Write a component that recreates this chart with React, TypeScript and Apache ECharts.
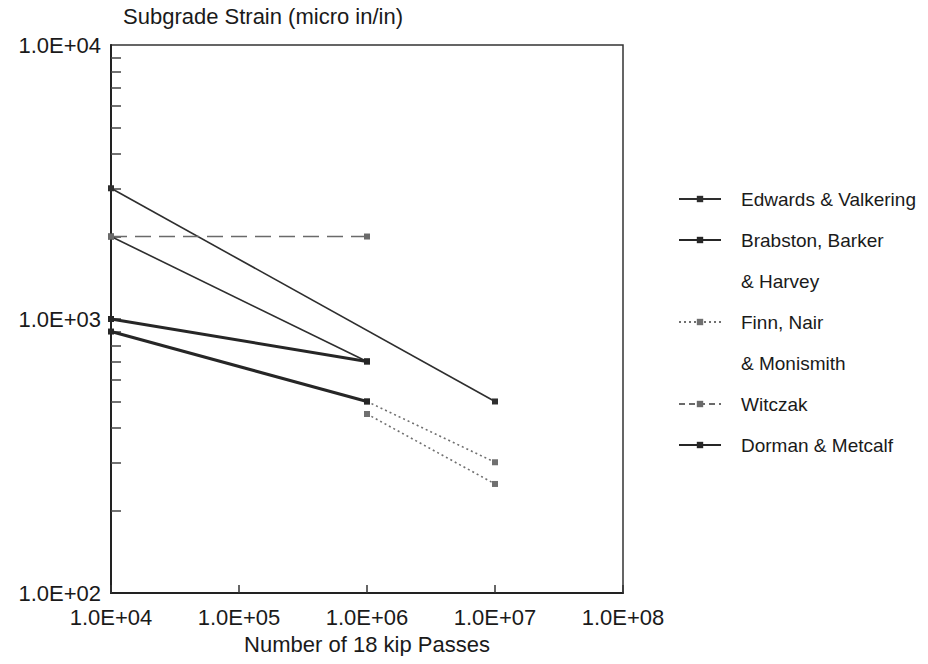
import React, { useEffect, useRef } from "react";
import * as echarts from "echarts";

// Data (x = number of 18 kip passes, y = subgrade strain)
const edwardsA = [[1e4, 3000], [1e7, 500]];
const edwardsB = [[1e4, 2000], [1e6, 700]];
const brabston = [[1e4, 1000], [1e6, 700]];
const finnA = [[1e6, 500], [1e7, 300]];
const finnB = [[1e6, 450], [1e7, 250]];
const witczak = [[1e4, 2000], [1e6, 2000]];
const dorman = [[1e4, 900], [1e6, 500]];

const xTickValues = [1e4, 1e5, 1e6, 1e7, 1e8];
const xTickLabels = ["1.0E+04", "1.0E+05", "1.0E+06", "1.0E+07", "1.0E+08"];
const yTickValues = [100, 1000, 10000];
const yTickLabels = ["1.0E+02", "1.0E+03", "1.0E+04"];
const yMinorTicks = [200, 300, 400, 500, 600, 700, 800, 900, 1000, 2000, 3000, 4000, 5000, 6000, 7000, 8000, 9000];

const legendNames = [
  "Edwards & Valkering",
  "Brabston, Barker",
  "& Harvey",
  "Finn, Nair",
  "& Monismith",
  "Witczak",
  "Dorman & Metcalf",
];

const FONT = "Liberation Sans, Arial, Helvetica, sans-serif";

export default function App() {
  const ref = useRef<HTMLDivElement>(null);
  useEffect(() => {
    if (!ref.current) return;
    const chart = echarts.init(ref.current, undefined, { renderer: "svg" });
    const dark = "#2e2e2e";
    const mk = (name: string, data: number[][], color: string, width: number, type: any, z = 2) => ({
      name,
      type: "line",
      data,
      symbol: "rect",
      symbolSize: 6,
      showSymbol: true,
      z,
      itemStyle: { color },
      lineStyle: { color, width, type },
      emphasis: { disabled: true },
    });
    const blank = (name: string) => ({
      name,
      type: "line",
      data: [],
      symbol: "none",
      itemStyle: { color: "rgba(0,0,0,0)" },
      lineStyle: { color: "rgba(0,0,0,0)", width: 0 },
    });
    chart.setOption({
      animation: false,
      backgroundColor: "#ffffff",
      title: {
        text: "Subgrade Strain (micro in/in)",
        left: 118,
        top: 0,
        textStyle: { fontFamily: FONT, fontSize: 22, fontWeight: "normal", color: "#1a1a1a" },
      },
      grid: {
        left: 111,
        right: 305,
        top: 45,
        bottom: 71,
        show: true,
        borderColor: "#333",
        borderWidth: 1.5,
        backgroundColor: "transparent",
      },
      legend: {
        data: legendNames.map((n) =>
          n === "Witczak" ? { name: n, lineStyle: { type: [6, 4] } } : { name: n }
        ),
        orient: "vertical",
        left: 678,
        top: 189,
        padding: 0,
        itemWidth: 42,
        itemHeight: 8,
        itemGap: 21,
        selectedMode: false,
        textStyle: {
          fontFamily: FONT,
          fontSize: 19,
          lineHeight: 20,
          color: "#1a1a1a",
          padding: [0, 0, 0, 15],
          overflow: "none",
        },
      },
      xAxis: {
        type: "log",
        logBase: 10,
        min: 1e4,
        max: 1e8,
        name: "Number of 18 kip Passes",
        nameLocation: "middle",
        nameGap: 40,
        nameTextStyle: { fontFamily: FONT, fontSize: 22, color: "#1a1a1a" },
        axisLine: { show: true, lineStyle: { color: "#222", width: 2 } },
        axisTick: { show: true, inside: true, length: 8, customValues: xTickValues, lineStyle: { color: "#333", width: 1.5 } },
        axisLabel: {
          customValues: xTickValues,
          margin: 13,
          fontFamily: FONT,
          fontSize: 22,
          color: "#1a1a1a",
          formatter: (v: number) => {
            const i = xTickValues.findIndex((t) => Math.abs(Math.log10(t) - Math.log10(v)) < 1e-6);
            return i >= 0 ? xTickLabels[i] : "";
          },
        },
        splitLine: { show: false },
      },
      yAxis: {
        type: "log",
        logBase: 10,
        min: 100,
        max: 10000,
        axisLine: { show: true, lineStyle: { color: "#222", width: 2 } },
        axisTick: { show: true, inside: true, length: 10, customValues: yMinorTicks, lineStyle: { color: "#444", width: 1.5 } },
        axisLabel: {
          customValues: yTickValues,
          margin: 10,
          fontFamily: FONT,
          fontSize: 22,
          color: "#1a1a1a",
          formatter: (v: number) => {
            const i = yTickValues.findIndex((t) => Math.abs(Math.log10(t) - Math.log10(v)) < 1e-6);
            return i >= 0 ? yTickLabels[i] : "";
          },
        },
        splitLine: { show: false },
      },
      series: [
        mk("Edwards & Valkering", edwardsA, dark, 1.6, "solid"),
        mk("Edwards & Valkering", edwardsB, dark, 1.6, "solid"),
        mk("Brabston, Barker", brabston, "#262626", 3, "solid", 3),
        blank("& Harvey"),
        mk("Finn, Nair", finnA, "#707070", 1.6, [2, 3]),
        mk("Finn, Nair", finnB, "#707070", 1.6, [2, 3]),
        blank("& Monismith"),
        mk("Witczak", witczak, "#6a6a6a", 1.6, [16, 8]),
        mk("Dorman & Metcalf", dorman, "#262626", 3, "solid", 3),
      ],
    });
    return () => chart.dispose();
  }, []);
  return <div ref={ref} style={{ width: 928, height: 664, margin: -8 }} />;
}
